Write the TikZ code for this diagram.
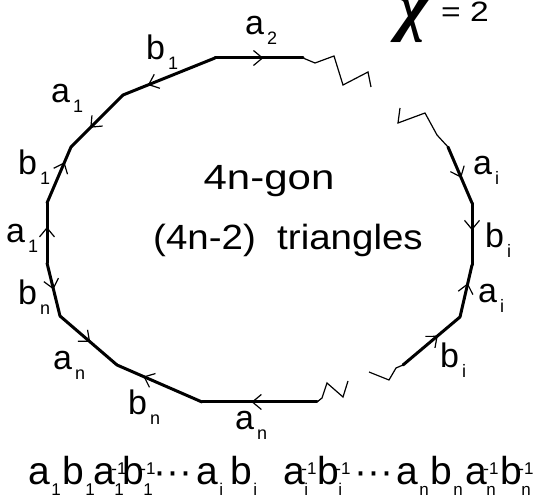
\documentclass[tikz,border=0pt]{standalone}
\usepackage{fontspec}
\setmainfont{Liberation Sans}
\newfontfamily\widefont[FakeStretch=1.2]{Liberation Sans}
\newfontfamily\midfont[FakeStretch=1.1]{Liberation Sans}
\newfontfamily\chifont{Liberation Serif}
\usetikzlibrary{arrows.meta,decorations.markings}
\newcommand{\lblidx}{\fontsize{18}{18}\selectfont}
\newcommand{\wrdidx}{\fontsize{17}{17}\selectfont}
\newcommand{\lsub}[1]{\kern3pt\raisebox{-10pt}{\lblidx #1}}
\newcommand{\wsub}[1]{\kern1pt\raisebox{-11pt}{\wrdidx #1}}
\newcommand{\wsubsup}[2]{\rlap{\kern-4pt\raisebox{10pt}{\wrdidx #2}}\kern-1pt\raisebox{-11pt}{\wrdidx #1}}

\begin{document}
\begin{tikzpicture}[x=1pt,y=-1pt,
  side/.style={line width=3pt, line cap=round, postaction={decorate},
    decoration={markings, mark=at position #1 with
      {\arrow{Straight Barb[length=9pt,width=15pt,line width=1.2pt]}}}},
  zig/.style={line width=1.2pt},
  lbl/.style={font=\fontsize{34}{34}\selectfont, inner sep=0pt, anchor=base west},
  wrd/.style={font=\fontsize{39}{39}\selectfont, inner sep=0pt, anchor=base west},
  big/.style={font=\fontsize{35}{35}\selectfont, inner sep=0pt, anchor=base}]
\useasboundingbox (0,0) rectangle (539,502);
% corners of the polygon, left part
\coordinate (v1) at (303,58);  \coordinate (v2) at (215,58);
\coordinate (v3) at (123,95);  \coordinate (v4) at (71,147);
\coordinate (v5) at (47,203);  \coordinate (v6) at (47,263);
\coordinate (v7) at (60,316);  \coordinate (v8) at (117,365);
\coordinate (v9) at (202,402); \coordinate (v10) at (317,402);
% right part
\coordinate (w1) at (448,147); \coordinate (w2) at (472,203);
\coordinate (w3) at (472,265); \coordinate (w4) at (460,317);
\coordinate (w5) at (403,365);
\draw[side=0.55] (v2) -- (v1);
\draw[side=0.73] (v2) -- (v3);
\draw[side=0.63] (v3) -- (v4);
\draw[side=0.73] (v5) -- (v4);
\draw[side=0.6] (v6) -- (v5);
\draw[side=0.5] (v6) -- (v7);
\draw[side=0.53] (v7) -- (v8);
\draw[side=0.69] (v9) -- (v8);
\draw[side=0.57] (v10) -- (v9);
\draw[side=0.55] (w1) -- (w2);
\draw[side=0.44] (w2) -- (w3);
\draw[side=0.65] (w4) -- (w3);
\draw[side=0.61] (w5) -- (w4);
% broken ends
\draw[zig] (v1) -- (315,63) -- (334,56) -- (343,85) -- (368,72) -- (371,87);
\draw[zig] (w1) -- (437,135) -- (425,113) -- (398,123) -- (400,108);
\draw[zig] (w5) -- (396,368) -- (389,380) -- (369,372);
\draw[zig] (v10) -- (322,398) -- (327,383) -- (343,397) -- (348,381);
% edge labels
\node[lbl] (la2) at (245,35) {a\lsub{2}};
\node[lbl] (lb1) at (146,60) {b\lsub{1}};
\node[lbl] (la1) at (51,103) {a\lsub{1}};
\node[lbl] (lb1b) at (18,175) {b\lsub{1}};
\node[lbl] (la1b) at (6,243) {a\lsub{1}};
\node[lbl] (lbn) at (18,305) {b\lsub{n}};
\node[lbl] (lan) at (53,370) {a\lsub{n}};
\node[lbl] (lbnb) at (128,415) {b\lsub{n}};
\node[lbl] (lanb) at (235,430) {a\lsub{n}};
\node[lbl] (lai) at (473,175) {a\lsub{i}};
\node[lbl] (lbi) at (485,248) {b\lsub{i}};
\node[lbl] (laib) at (478,303) {a\lsub{i}};
\node[lbl] (lbib) at (440,368) {b\lsub{i}};
% inside text
\node[big] (gon) at (269,190) {\widefont 4n-gon};
\node[big] (tri) at (288,250) {\midfont (4n-2)\ \ triangles};
\node[inner sep=0pt, anchor=base west] (chi) at (398,29)
  {\chifont\bfseries\itshape\fontsize{66}{66}\selectfont χ};
\node[inner sep=0pt, anchor=base west, font=\widefont\fontsize{28}{28}\selectfont] (eq) at (441,22) {= 2};
% the word, piece by piece
\foreach \x/\t [count=\i] in {28.5/{a\wsub{1}}, 62.5/{b\wsub{1}}, 93.5/{a\wsubsup{1}{-1}},
    122.5/{b\wsubsup{1}{-1}}, 153/{···}, 196.5/{a\wsub{i}}, 230.5/{b\wsub{i}},
    283.5/{a\wsubsup{i}{-1}}, 317.5/{b\wsubsup{i}{-1}}, 354/{···},
    396.5/{a\wsub{n}}, 430.5/{b\wsub{n}}, 465.5/{a\wsubsup{n}{-1}}, 500.5/{b\wsubsup{n}{-1}}}
  \node[wrd] (word\i) at (\x,485) {\t};
\end{tikzpicture}
\end{document}
